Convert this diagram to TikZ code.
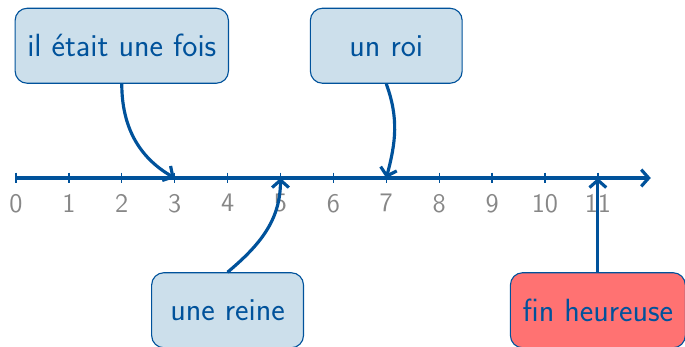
\documentclass[tikz,border=0pt]{standalone}
\usetikzlibrary{arrows.meta}
\definecolor{lineblue}{RGB}{0,82,155}
\definecolor{boxblue}{RGB}{204,223,235}
\definecolor{boxred}{RGB}{255,114,114}
\definecolor{labelgray}{RGB}{135,135,135}
\tikzset{
  evbox/.style={draw=lineblue, line width=0.6pt, fill=boxblue, rounded corners=0.23cm,
    minimum width=2.87cm, minimum height=1.418cm, inner xsep=0.23cm,
    text=lineblue, font=\sffamily\fontsize{17.28}{20}\selectfont},
  endbox/.style={evbox, fill=boxred},
  conn/.style={draw=lineblue, line width=1.7pt, -{Straight Barb[length=4pt,width=9pt]}},
  tick/.style={draw=lineblue, line width=0.7pt},
  ticklabel/.style={text=labelgray, font=\sffamily\fontsize{14.4}{16}\selectfont, inner sep=0pt, anchor=north},
}
\begin{document}
\begin{tikzpicture}
\useasboundingbox (-0.302,-3.176) rectangle (12.647,3.365);
% axis
\coordinate (start) at (0,0);
\coordinate (end) at (12,0);
\draw[conn] (start) -- (end);
\foreach \i in {0,...,11} {
  \coordinate (t\i) at (\i,0);
  \draw[tick] (\i,0.1) -- (\i,-0.1);
  \node[ticklabel] (l\i) at (\i,-0.3) {\i};
}
% boxes
\node[evbox] (b1) at (2,2.5) {il était une fois};
\node[evbox] (b2) at (7,2.5) {un roi};
\node[evbox] (b3) at (4,-2.5) {une reine};
\node[endbox] (b4) at (11,-2.5) {fin heureuse};
% connectors
\draw[conn] (b1.south) to[out=-90, in=150] (t3);
\draw[conn] (b2.south) to[out=-70, in=75] (t7);
\draw[conn] (b3.north) to[out=40, in=-90] (t5);
\draw[conn] (b4.north) -- (t11);
\end{tikzpicture}
\end{document}
